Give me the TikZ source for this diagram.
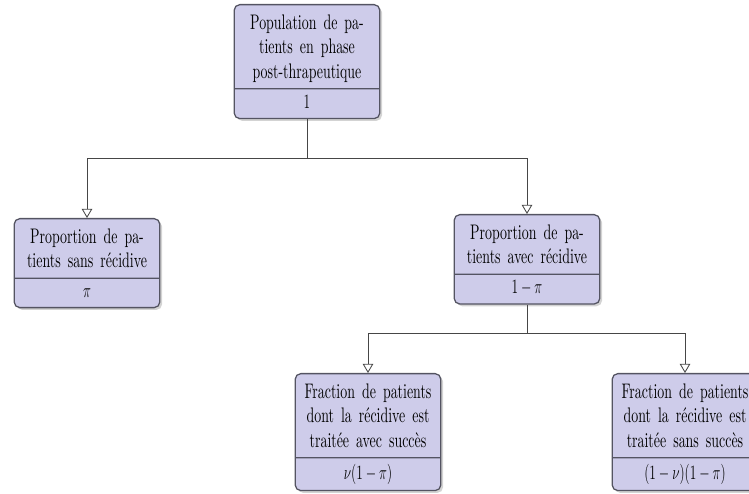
\documentclass[tikz,border=0pt]{standalone}
\usepackage{amsmath,amssymb}
\usepackage{fontspec}
\setmainfont{lmroman10-regular.otf}[FakeStretch=0.66]
\usepackage{xcolor}
\usepackage{tikz}
\usetikzlibrary{positioning,arrows.meta,shapes.multipart,shadows}
\definecolor{boxfill}{RGB}{206,204,234}
\definecolor{boxline}{RGB}{84,84,98}
\definecolor{wire}{RGB}{70,70,70}
\newcommand{\hi}{\rule{0pt}{13pt}}
\newcommand{\lo}{\rule[-3pt]{0pt}{3pt}}
\newcommand{\val}[1]{\rule[-3pt]{0pt}{12pt}\scalebox{0.66}[1]{$#1$}}

\begin{document}
\begin{tikzpicture}[
		pop/.style={rectangle split, rectangle split parts=2, draw=boxline, line width=0.9pt,
		            fill=boxfill, rounded corners=4pt, text width=3.5cm, align=center,
		            inner xsep=2pt, inner ysep=4pt, anchor=north,
		            font=\fontsize{15}{17.5}\selectfont,
		            drop shadow={shadow xshift=1.6pt, shadow yshift=-1.6pt, opacity=0.35}},
		link/.style={draw=wire, line width=0.6pt},
		arr/.style={link, -{Triangle[open, length=6.5pt, width=7.5pt]}}]
		\useasboundingbox (0,0) rectangle (18.725,12.35);
		\node[pop] (root) at (7.675, 12.25)
			{\hi Population de pa-\\tients en phase\\post-thrapeutique\lo
			 \nodepart{two}\val{1}};
		\node[pop] (nonrec) at (2.175, 6.9)
			{\hi Proportion de pa-\\tients sans récidive\lo
			 \nodepart{two}\val{\pi}};
		\node[pop] (rec) at (13.175, 7.0)
			{\hi Proportion de pa-\\tients avec récidive\lo
			 \nodepart{two}\val{1-\pi}};
		\node[pop] (cured) at (9.2, 3.025)
			{\hi Fraction de patients\\dont la récidive est\\traitée avec succès\lo
			 \nodepart{two}\val{\nu(1-\pi)}};
		\node[pop] (failed) at (17.125, 3.025)
			{\hi Fraction de patients\\dont la récidive est\\traitée sans succès\lo
			 \nodepart{two}\val{(1-\nu)(1-\pi)}};
		% branching points
		\coordinate (fork1) at (7.675, 8.4);
		\coordinate (fork2) at (13.175, 4.025);
		\draw[link] (root.south) -- (fork1);
		\foreach \t in {nonrec, rec}
			\draw[arr] (fork1) -| (\t.north);
		\draw[link] (rec.south) -- (fork2);
		\foreach \t in {cured, failed}
			\draw[arr] (fork2) -| (\t.north);
	\end{tikzpicture}
\end{document}
